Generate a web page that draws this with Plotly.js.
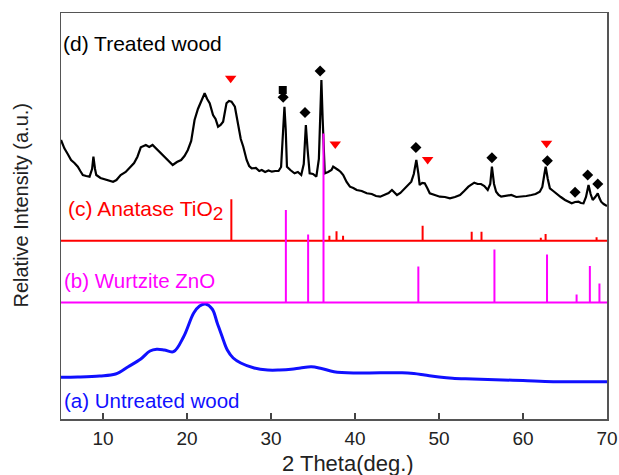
<!DOCTYPE html>
<html>
<head>
<meta charset="utf-8">
<script src="https://cdn.plot.ly/plotly-3.0.1.min.js"></script>
<style>html,body{margin:0;padding:0;background:#fff;}#chart{width:619px;height:475px;}</style>
</head>
<body>
<div id="chart"></div>
<script>
// (a) Untreated wood
const untreatedX = [5,7,9.6,11.5,13,14.5,15.6,16.4,17.3,18.4,19.6,20.8,21.5,22.2,23,23.6,24.2,24.8,25.5,26.4,28,29.6,31,32.4,33.5,34.8,36,37.5,40,45.6,47,48.3,50,51.6,54,57.6,60,63.6,70];
const untreatedY = [41.7,42,43,45,52.3,60,68,69.7,69,67.3,82.3,106,113,115,110,96,82,69,61,56,51,49,49,49.7,51,52.3,50.5,47.3,46,46.3,45.5,44,42,40.7,40,39,38.5,37.3,37.3];

// (b) Wurtzite ZnO reference peaks
const znoPeaks = [31.77,34.42,36.25,47.54,56.6,62.86,66.38,67.96,69.1];
const znoHeights = [92.5,68,169,36,53,48,8,36.5,19];

// (c) Anatase TiO2 reference peaks
const tioPeaks = [25.28,36.95,37.8,38.58,48.05,53.89,55.06,62.12,62.69,68.76];
const tioHeights = [41.4,5,9.4,5,15,9,9,3,6.7,3.4];

// (d) Treated wood
const treatedX = [5.0,5.4,5.8,6.2,6.6,7.0,7.3,7.6,8.0,8.4,8.7,8.86,9.05,9.2,9.7,10.2,10.7,11.2,11.6,12.1,12.7,13.3,13.7,14.1,14.5,15.1,15.5,15.9,16.5,16.9,17.3,17.8,18.3,18.8,19.3,19.7,20.1,20.5,20.9,21.3,21.7,22.1,22.4,22.7,23.1,23.4,23.7,24.0,24.3,24.7,25.0,25.3,25.7,26.1,26.4,26.7,27.1,27.4,27.7,28.2,28.6,28.9,29.3,29.7,30.1,30.5,30.9,31.2,31.45,31.6,31.75,31.9,32.3,32.8,33.2,33.6,33.9,34.15,34.35,34.6,35.0,35.4,35.7,35.9,36.0,36.15,36.4,36.8,37.2,37.4,37.7,38.0,38.3,38.6,39.0,39.4,39.8,40.2,40.8,41.4,42.0,42.5,43.0,43.5,44.0,44.4,44.7,45.0,45.4,45.9,46.3,46.7,47.0,47.3,47.55,47.7,48.0,48.3,48.6,48.9,49.5,50.1,50.7,51.3,51.9,52.5,53.0,53.5,54.2,54.6,55.0,55.4,55.8,56.1,56.3,56.55,56.8,57.1,57.4,58.0,58.6,59.2,59.8,60.4,61.0,61.5,62.0,62.3,62.55,62.7,62.95,63.2,63.6,64.0,64.5,65.0,65.4,65.8,66.2,66.6,66.9,67.2,67.5,67.8,68.05,68.3,68.6,68.9,69.1,69.3,69.6,70.0];
const treatedY = [279,270.7,265,259,256,252.3,248,244,243,242.3,250,262.3,250,244,241,239.7,238,237.3,239,244,247,252.3,256,262.3,271.7,274,272,274,269,265,262.3,258,254,257,259,263,269,278,299,310,318,325.7,320,315.7,304,300,292.3,294,297.3,315.7,318,317.3,312.3,292.3,280,272.3,259,253,250.7,251,248,249,247,248.5,247.3,248,248,252,290,312.3,290,252.3,249,245.7,247,244,255,294,270,245.7,245,242.3,260,320,339,300,245.7,247,249,252.3,251,249,247,244,237,232.3,231,229,228,225.7,225,223,222.3,224,226,229,226,224,226,230.7,234,237.3,245,259,245,234,236,235.7,231,225.7,224,222.3,222,220.7,222,224,228,232.3,236.3,235,235,233,229,235,252.3,235,227.3,224,222.3,223,224,222,222.3,223,224,225,227.3,232,245,252.3,240,230.7,228,225.7,222,219,217,215.7,217,217.3,216,215.7,222,234,225,219,222,225.7,221,217.3,215,213];

// phase markers on (d)
const anataseMarkX = [25.2,37.65,48.65,62.8];
const anataseMarkY = [340.7,275,259.5,275.7];
const zincMarkX = [31.45,34.05,35.85,47.25,56.3,62.9,66.2,67.7,68.9];
const zincMarkY = [321.7,306.5,348,271.5,261.3,258.3,226.7,244,235];
const squareMarkX = [31.4];
const squareMarkY = [329];

const X_MIN = 5, X_MAX = 70;
function sticks(peaks, heights, base) {
  const xs = [X_MIN], ys = [base];
  peaks.forEach((p, i) => { xs.push(p, p, p); ys.push(base, base + heights[i], base); });
  xs.push(X_MAX); ys.push(base);
  return {x: xs, y: ys};
}
const tio = sticks(tioPeaks, tioHeights, 178.3);
const zno = sticks(znoPeaks, znoHeights, 116.5);

const traces = [
  {x: untreatedX, y: untreatedY, mode: 'lines', line: {color: '#1010ff', width: 3, shape: 'spline', smoothing: 1}},
  {x: treatedX, y: treatedY, mode: 'lines', line: {color: '#000', width: 2.2}},
  {x: tio.x, y: tio.y, mode: 'lines', line: {color: '#ff0000', width: 2}},
  {x: zno.x, y: zno.y, mode: 'lines', line: {color: '#ff00ff', width: 2}},
  {x: anataseMarkX, y: anataseMarkY, mode: 'markers', marker: {symbol: 'triangle-down', size: 10, color: '#ff0000'}},
  {x: squareMarkX, y: squareMarkY, mode: 'markers', marker: {symbol: 'square', size: 8, color: '#000'}},
  {x: zincMarkX, y: zincMarkY, mode: 'markers', marker: {symbol: 'diamond', size: 8.5, color: '#000'}}
];

const font = 'Liberation Sans, Arial, sans-serif';
const labelSize = 21;
const layout = {
  width: 619, height: 475,
  margin: {l: 61, r: 12, t: 13, b: 56},
  showlegend: false,
  paper_bgcolor: '#fff', plot_bgcolor: '#fff',
  font: {family: font, size: 19, color: '#222'},
  xaxis: {
    range: [X_MIN, X_MAX], tickvals: [10,20,30,40,50,60,70], ticks: 'inside', ticklen: 6, tickwidth: 1.5,
    tickcolor: '#444', showline: true, linecolor: '#555', linewidth: 1.5, mirror: true,
    showgrid: false, zeroline: false, ticklabelstandoff: 2, tickfont: {size: 19, family: font, color: '#222'}
  },
  yaxis: {
    range: [0, 406], showticklabels: false, ticks: '', showline: true, linecolor: '#555', linewidth: 1.5,
    mirror: true, showgrid: false, zeroline: false
  },
  annotations: [
    {x: 0.5256, y: -0.1084, xref: 'paper', yref: 'paper', xanchor: 'center', yanchor: 'middle', showarrow: false, text: '2 Theta(deg.)', font: {size: 22, family: font, color: '#222'}},
    {x: -0.0723, y: 0.527, xref: 'paper', yref: 'paper', xanchor: 'center', yanchor: 'middle', textangle: -90, showarrow: false, text: 'Relative Intensity (a.u.)', font: {size: 20, family: font, color: '#222'}},
    {x: 5.05, y: 376, xref: 'x', yref: 'y', xanchor: 'left', yanchor: 'middle', showarrow: false, text: '(d) Treated wood', font: {size: labelSize, family: font, color: '#000'}},
    {x: 5.6, y: 209, xref: 'x', yref: 'y', xanchor: 'left', yanchor: 'middle', showarrow: false, text: '(c) Anatase TiO<sub><span style="font-size:19px">2</span></sub>', font: {size: labelSize, family: font, color: '#ff0000'}},
    {x: 5.15, y: 139, xref: 'x', yref: 'y', xanchor: 'left', yanchor: 'middle', showarrow: false, text: '(b) Wurtzite ZnO', font: {size: labelSize - 0.5, family: font, color: '#ff00ff'}},
    {x: 5.15, y: 19, xref: 'x', yref: 'y', xanchor: 'left', yanchor: 'middle', showarrow: false, text: '(a) Untreated wood', font: {size: labelSize - 0.5, family: font, color: '#1010ff'}}
  ]
};
Plotly.newPlot('chart', traces, layout, {displayModeBar: false, staticPlot: true});
</script>
</body>
</html>
